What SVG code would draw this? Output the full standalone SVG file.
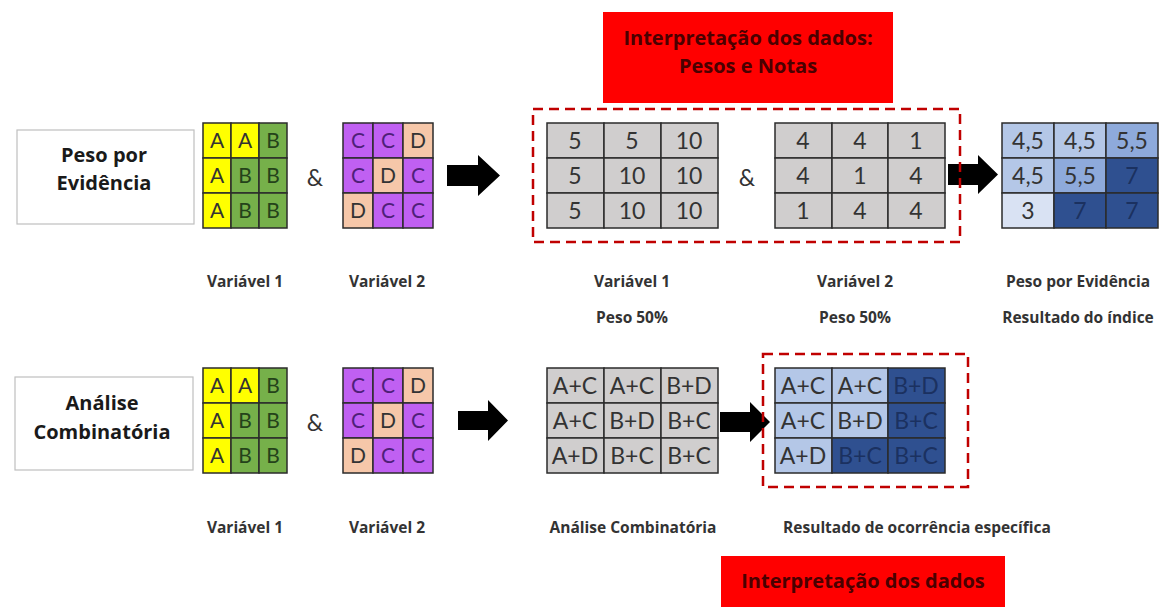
<svg xmlns="http://www.w3.org/2000/svg" width="1160" height="607" viewBox="0 0 1160 607">
<defs>
<style>
.bg{fill:#ffffff}
.lbox{fill:#ffffff;stroke:#bfbfbf;stroke-width:1.2}
.ltxt{font-family:"Open Sans","Liberation Sans",sans-serif;font-weight:bold;font-size:20px;fill:#1a1a1a;text-anchor:middle}
.cap{font-family:"Open Sans","Liberation Sans",sans-serif;font-weight:bold;font-size:15.5px;fill:#333333;text-anchor:middle}
.cell{stroke:#2b2b2b;stroke-width:1.5}
.y{fill:#ffff00}
.g{fill:#76b04a}
.p{fill:#c060f2}
.o{fill:#f6c7a9}
.gr{fill:#d0cece}
.b1{fill:#b4c7e7}
.b2{fill:#8eaadb}
.b0{fill:#d9e2f3}
.b3{fill:#2f5090}
.lt{font-family:Lato,"Liberation Sans",sans-serif;font-size:21px;text-anchor:middle;fill:#333333}
.lt.gt{fill:#24421a}
.lt.pt{fill:#4e1f78}
.nt{font-family:Lato,"Liberation Sans",sans-serif;font-size:23px;text-anchor:middle;fill:#333333}
.nt.dk{fill:#1b3160}
.amp{font-family:Lato,"Liberation Sans",sans-serif;font-size:23px;text-anchor:middle;fill:#333333}
.red{fill:#ff0000}
.rtxt{font-family:"Open Sans","Liberation Sans",sans-serif;font-weight:bold;font-size:20px;fill:#4a0000;text-anchor:middle}
.dash{fill:none;stroke:#c00000;stroke-width:2.5;stroke-dasharray:10 6}
.arrow{fill:#000000}
</style>
</defs>
<rect class="bg" x="0" y="0" width="1160" height="607"/>

<!-- connectors (block arrows) -->
<g id="connectors">
<path class="arrow" d="M447,165 H478 V155 L500,175.5 L478,196 V186 H447 Z"/>
<path class="arrow" d="M948,164 H978 V155 L998,174.5 L978,194 V185 H948 Z"/>
<path class="arrow" d="M458,411 H488 V400 L508,420.5 L488,441 V430 H458 Z"/>
<path class="arrow" d="M720,412 H750 V402 L770,422 L750,442 V432 H720 Z"/>
</g>

<!-- Top row -->
<g id="label-peso">
<rect class="lbox" x="17" y="130" width="177" height="94"/>
<text class="ltxt" x="104" y="162">Peso por</text>
<text class="ltxt" x="104" y="190">Evidência</text>
</g>

<g id="top-var1">
<rect class="cell y" x="203" y="123" width="28" height="35"/>
<rect class="cell y" x="231" y="123" width="28" height="35"/>
<rect class="cell g" x="259" y="123" width="28" height="35"/>
<rect class="cell y" x="203" y="158" width="28" height="35"/>
<rect class="cell g" x="231" y="158" width="28" height="35"/>
<rect class="cell g" x="259" y="158" width="28" height="35"/>
<rect class="cell y" x="203" y="193" width="28" height="35"/>
<rect class="cell g" x="231" y="193" width="28" height="35"/>
<rect class="cell g" x="259" y="193" width="28" height="35"/>
<text class="lt" x="217" y="148">A</text><text class="lt" x="245" y="148">A</text><text class="lt gt" x="273" y="148">B</text>
<text class="lt" x="217" y="183">A</text><text class="lt gt" x="245" y="183">B</text><text class="lt gt" x="273" y="183">B</text>
<text class="lt" x="217" y="218">A</text><text class="lt gt" x="245" y="218">B</text><text class="lt gt" x="273" y="218">B</text>
<text class="cap" x="245" y="287">Variável 1</text>
</g>

<text class="amp" x="315" y="186">&amp;</text>

<g id="top-var2">
<rect class="cell p" x="343" y="123" width="30" height="35"/>
<rect class="cell p" x="373" y="123" width="30" height="35"/>
<rect class="cell o" x="403" y="123" width="30" height="35"/>
<rect class="cell p" x="343" y="158" width="30" height="35"/>
<rect class="cell o" x="373" y="158" width="30" height="35"/>
<rect class="cell p" x="403" y="158" width="30" height="35"/>
<rect class="cell o" x="343" y="193" width="30" height="35"/>
<rect class="cell p" x="373" y="193" width="30" height="35"/>
<rect class="cell p" x="403" y="193" width="30" height="35"/>
<text class="lt pt" x="358" y="148">C</text><text class="lt pt" x="388" y="148">C</text><text class="lt" x="418" y="148">D</text>
<text class="lt pt" x="358" y="183">C</text><text class="lt" x="388" y="183">D</text><text class="lt pt" x="418" y="183">C</text>
<text class="lt" x="358" y="218">D</text><text class="lt pt" x="388" y="218">C</text><text class="lt pt" x="418" y="218">C</text>
<text class="cap" x="387" y="287">Variável 2</text>
</g>

<g id="interp-top">
<rect class="red" x="603" y="12" width="290" height="91"/>
<text class="rtxt" x="748" y="45">Interpretação dos dados:</text>
<text class="rtxt" x="748" y="73">Pesos e Notas</text>
</g>

<g id="notas-var1">
<rect class="cell gr" x="547" y="123" width="57" height="35"/>
<rect class="cell gr" x="604" y="123" width="57" height="35"/>
<rect class="cell gr" x="661" y="123" width="57" height="35"/>
<rect class="cell gr" x="547" y="158" width="57" height="35"/>
<rect class="cell gr" x="604" y="158" width="57" height="35"/>
<rect class="cell gr" x="661" y="158" width="57" height="35"/>
<rect class="cell gr" x="547" y="193" width="57" height="35"/>
<rect class="cell gr" x="604" y="193" width="57" height="35"/>
<rect class="cell gr" x="661" y="193" width="57" height="35"/>
<text class="nt" x="575" y="149">5</text><text class="nt" x="632" y="149">5</text><text class="nt" x="689" y="149">10</text>
<text class="nt" x="575" y="184">5</text><text class="nt" x="632" y="184">10</text><text class="nt" x="689" y="184">10</text>
<text class="nt" x="575" y="219">5</text><text class="nt" x="632" y="219">10</text><text class="nt" x="689" y="219">10</text>
<text class="cap" x="632" y="287">Variável 1</text>
<text class="cap" x="632" y="323">Peso 50%</text>
</g>

<text class="amp" x="747" y="186">&amp;</text>

<g id="notas-var2">
<rect class="cell gr" x="775" y="123" width="57" height="35"/>
<rect class="cell gr" x="832" y="123" width="56" height="35"/>
<rect class="cell gr" x="888" y="123" width="57" height="35"/>
<rect class="cell gr" x="775" y="158" width="57" height="35"/>
<rect class="cell gr" x="832" y="158" width="56" height="35"/>
<rect class="cell gr" x="888" y="158" width="57" height="35"/>
<rect class="cell gr" x="775" y="193" width="57" height="35"/>
<rect class="cell gr" x="832" y="193" width="56" height="35"/>
<rect class="cell gr" x="888" y="193" width="57" height="35"/>
<text class="nt" x="803" y="149">4</text><text class="nt" x="860" y="149">4</text><text class="nt" x="916" y="149">1</text>
<text class="nt" x="803" y="184">4</text><text class="nt" x="860" y="184">1</text><text class="nt" x="916" y="184">4</text>
<text class="nt" x="803" y="219">1</text><text class="nt" x="860" y="219">4</text><text class="nt" x="916" y="219">4</text>
<text class="cap" x="855" y="287">Variável 2</text>
<text class="cap" x="855" y="323">Peso 50%</text>
</g>

<g id="dash-top">
<rect class="dash" x="533" y="109" width="427" height="133"/>
</g>

<g id="resultado-indice">
<rect class="cell b1" x="1002" y="123" width="52" height="35"/>
<rect class="cell b1" x="1054" y="123" width="52" height="35"/>
<rect class="cell b2" x="1106" y="123" width="52" height="35"/>
<rect class="cell b1" x="1002" y="158" width="52" height="35"/>
<rect class="cell b2" x="1054" y="158" width="52" height="35"/>
<rect class="cell b3" x="1106" y="158" width="52" height="35"/>
<rect class="cell b0" x="1002" y="193" width="52" height="35"/>
<rect class="cell b3" x="1054" y="193" width="52" height="35"/>
<rect class="cell b3" x="1106" y="193" width="52" height="35"/>
<text class="nt" x="1028" y="149">4,5</text><text class="nt" x="1080" y="149">4,5</text><text class="nt" x="1132" y="149">5,5</text>
<text class="nt" x="1028" y="184">4,5</text><text class="nt" x="1080" y="184">5,5</text><text class="nt dk" x="1132" y="184">7</text>
<text class="nt" x="1028" y="219">3</text><text class="nt dk" x="1080" y="219">7</text><text class="nt dk" x="1132" y="219">7</text>
<text class="cap" x="1078" y="287">Peso por Evidência</text>
<text class="cap" x="1078" y="323">Resultado do índice</text>
</g>

<!-- Bottom row -->
<g id="label-analise">
<rect class="lbox" x="15" y="377" width="178" height="93"/>
<text class="ltxt" x="102" y="410">Análise</text>
<text class="ltxt" x="102" y="439">Combinatória</text>
</g>

<g id="bot-var1">
<rect class="cell y" x="203" y="368" width="28" height="35"/>
<rect class="cell y" x="231" y="368" width="28" height="35"/>
<rect class="cell g" x="259" y="368" width="28" height="35"/>
<rect class="cell y" x="203" y="403" width="28" height="35"/>
<rect class="cell g" x="231" y="403" width="28" height="35"/>
<rect class="cell g" x="259" y="403" width="28" height="35"/>
<rect class="cell y" x="203" y="438" width="28" height="35"/>
<rect class="cell g" x="231" y="438" width="28" height="35"/>
<rect class="cell g" x="259" y="438" width="28" height="35"/>
<text class="lt" x="217" y="393">A</text><text class="lt" x="245" y="393">A</text><text class="lt gt" x="273" y="393">B</text>
<text class="lt" x="217" y="428">A</text><text class="lt gt" x="245" y="428">B</text><text class="lt gt" x="273" y="428">B</text>
<text class="lt" x="217" y="463">A</text><text class="lt gt" x="245" y="463">B</text><text class="lt gt" x="273" y="463">B</text>
<text class="cap" x="245" y="533">Variável 1</text>
</g>

<text class="amp" x="315" y="431">&amp;</text>

<g id="bot-var2">
<rect class="cell p" x="343" y="368" width="30" height="35"/>
<rect class="cell p" x="373" y="368" width="30" height="35"/>
<rect class="cell o" x="403" y="368" width="30" height="35"/>
<rect class="cell p" x="343" y="403" width="30" height="35"/>
<rect class="cell o" x="373" y="403" width="30" height="35"/>
<rect class="cell p" x="403" y="403" width="30" height="35"/>
<rect class="cell o" x="343" y="438" width="30" height="35"/>
<rect class="cell p" x="373" y="438" width="30" height="35"/>
<rect class="cell p" x="403" y="438" width="30" height="35"/>
<text class="lt pt" x="358" y="393">C</text><text class="lt pt" x="388" y="393">C</text><text class="lt" x="418" y="393">D</text>
<text class="lt pt" x="358" y="428">C</text><text class="lt" x="388" y="428">D</text><text class="lt pt" x="418" y="428">C</text>
<text class="lt" x="358" y="463">D</text><text class="lt pt" x="388" y="463">C</text><text class="lt pt" x="418" y="463">C</text>
<text class="cap" x="387" y="533">Variável 2</text>
</g>

<g id="combinatoria">
<rect class="cell gr" x="547" y="368" width="57" height="35"/>
<rect class="cell gr" x="604" y="368" width="57" height="35"/>
<rect class="cell gr" x="661" y="368" width="57" height="35"/>
<rect class="cell gr" x="547" y="403" width="57" height="35"/>
<rect class="cell gr" x="604" y="403" width="57" height="35"/>
<rect class="cell gr" x="661" y="403" width="57" height="35"/>
<rect class="cell gr" x="547" y="438" width="57" height="35"/>
<rect class="cell gr" x="604" y="438" width="57" height="35"/>
<rect class="cell gr" x="661" y="438" width="57" height="35"/>
<text class="nt" x="575" y="394">A+C</text><text class="nt" x="632" y="394">A+C</text><text class="nt" x="689" y="394">B+D</text>
<text class="nt" x="575" y="429">A+C</text><text class="nt" x="632" y="429">B+D</text><text class="nt" x="689" y="429">B+C</text>
<text class="nt" x="575" y="464">A+D</text><text class="nt" x="632" y="464">B+C</text><text class="nt" x="689" y="464">B+C</text>
<text class="cap" x="633" y="533">Análise Combinatória</text>
</g>

<g id="ocorrencia">
<rect class="cell b1" x="775" y="368" width="57" height="35"/>
<rect class="cell b1" x="832" y="368" width="56" height="35"/>
<rect class="cell b3" x="888" y="368" width="57" height="35"/>
<rect class="cell b1" x="775" y="403" width="57" height="35"/>
<rect class="cell b1" x="832" y="403" width="56" height="35"/>
<rect class="cell b3" x="888" y="403" width="57" height="35"/>
<rect class="cell b1" x="775" y="438" width="57" height="35"/>
<rect class="cell b3" x="832" y="438" width="56" height="35"/>
<rect class="cell b3" x="888" y="438" width="57" height="35"/>
<text class="nt" x="803" y="394">A+C</text><text class="nt" x="860" y="394">A+C</text><text class="nt dk" x="916" y="394">B+D</text>
<text class="nt" x="803" y="429">A+C</text><text class="nt" x="860" y="429">B+D</text><text class="nt dk" x="916" y="429">B+C</text>
<text class="nt" x="803" y="464">A+D</text><text class="nt dk" x="860" y="464">B+C</text><text class="nt dk" x="916" y="464">B+C</text>
<text class="cap" x="917" y="533">Resultado de ocorrência específica</text>
</g>

<g id="dash-bottom">
<rect class="dash" x="763" y="354" width="205" height="133"/>
</g>

<g id="interp-bottom">
<rect class="red" x="721" y="556" width="284" height="60"/>
<text class="rtxt" x="863" y="588">Interpretação dos dados</text>
</g>
</svg>
